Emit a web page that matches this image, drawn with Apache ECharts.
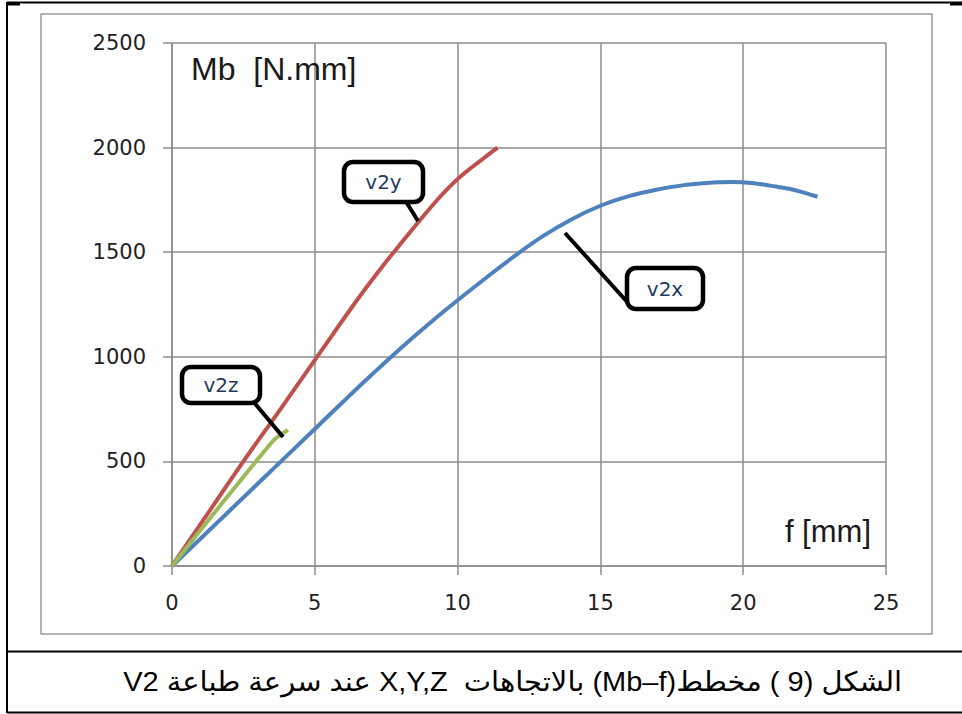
<!DOCTYPE html>
<html>
<head>
<meta charset="utf-8">
<script src="https://cdn.jsdelivr.net/npm/echarts@6/dist/echarts.min.js"></script>
<style>
  html, body { margin: 0; padding: 0; background: #fff; }
  #wrap { position: relative; width: 962px; height: 714px; overflow: hidden; }
  #chart { position: absolute; left: 0; top: 0; width: 962px; height: 714px; }
  #caption {
    position: absolute; top: 653px; height: 58px; right: 60px;
    direction: rtl; text-align: right;
    font-family: "Liberation Sans", "DejaVu Sans", sans-serif;
    font-size: 27px; line-height: 58px; color: #000; white-space: nowrap;
    transform-origin: right center;
  }
</style>
</head>
<body>
<div id="wrap">
  <div id="chart"></div>
  <div id="caption" dir="rtl">الشكل (9 ) مخطط(Mb–f) بالاتجاهات&nbsp; X,Y,Z عند سرعة طباعة V2</div>
</div>
<script>
// ---- data ----
const xTicks = [0, 5, 10, 15, 20, 25];
const yTicks = [0, 500, 1000, 1500, 2000, 2500];

const v2yF  = [0, 1.25, 2.5, 3.8, 5.08, 6.5, 7.3, 7.9, 8.6, 9.3, 9.7, 10.1, 10.5, 10.9, 11.4];
const v2yMb = [0, 250, 500, 750, 1000, 1275, 1420, 1523, 1640, 1752, 1810, 1862, 1906, 1948, 2000];

const v2zF  = [0, 1, 2, 2.94, 3.35, 3.6, 3.85, 4.06];
const v2zMb = [0, 172, 342, 500, 568, 606, 632, 650];

const v2xF  = [0, 2, 4, 6, 7, 8, 9, 10, 11, 12, 13, 14, 15, 16, 17, 18, 18.6, 19.1, 19.6, 20.3, 21, 21.6, 22.1, 22.6];
const v2xMb = [0, 262, 524, 786, 915, 1040, 1158, 1270, 1378, 1482, 1578, 1658, 1722, 1768, 1800, 1822, 1830, 1834, 1836, 1831, 1817, 1803, 1786, 1765];

const seriesNames = ['v2x', 'v2y', 'v2z'];
const axisNameY = 'Mb  [N.mm]';
const axisNameX = 'f [mm]';

function pairs(xs, ys) { return xs.map((x, i) => [x, ys[i]]); }

const chart = echarts.init(document.getElementById('chart'), null, { renderer: 'svg' });

const tickFont = { fontFamily: 'DejaVu Sans', fontSize: 21, color: '#222' };
const gridLine = { lineStyle: { color: '#8c8c8c', width: 1.5 } };

function callout(bx, by, bw, bh, text, x1, y1, x2, y2) {
  return [
    { type: 'line', z: 100, shape: { x1: x1, y1: y1, x2: x2, y2: y2 },
      style: { stroke: '#000', lineWidth: 4 } },
    { type: 'rect', z: 101, shape: { x: bx, y: by, width: bw, height: bh, r: 9 },
      style: { fill: '#fff', stroke: '#000', lineWidth: 4.5 } },
    { type: 'text', z: 102, style: { x: bx + bw / 2, y: by + bh / 2, text: text,
      align: 'center', verticalAlign: 'middle', fontFamily: 'DejaVu Sans', fontSize: 20, fill: '#1f3a5f' } }
  ];
}

const option = {
  backgroundColor: '#fff',
  animation: false,
  grid: { left: 172, top: 43, right: 76, bottom: 148, containLabel: false, outerBoundsMode: 'none' },
  xAxis: {
    type: 'value', min: 0, max: 25, interval: 5,
    axisLine: { show: true, lineStyle: { color: '#8c8c8c', width: 1.5 } },
    axisTick: { show: true, length: 9, lineStyle: { color: '#8c8c8c', width: 1.5 } },
    splitLine: Object.assign({ show: true }, gridLine),
    axisLabel: Object.assign({ margin: 26, formatter: v => (xTicks.includes(v) ? String(v) : '') }, tickFont)
  },
  yAxis: {
    type: 'value', min: 0, max: 2500, interval: 500,
    axisLine: { show: true, lineStyle: { color: '#8c8c8c', width: 1.5 } },
    axisTick: { show: true, length: 9, lineStyle: { color: '#8c8c8c', width: 1.5 } },
    splitLine: Object.assign({ show: true }, gridLine),
    axisLabel: Object.assign({ margin: 26, formatter: v => (yTicks.includes(v) ? String(v) : '') }, tickFont)
  },
  series: [
    { name: seriesNames[0], type: 'line', data: pairs(v2xF, v2xMb), showSymbol: false, smooth: 0.4,
      lineStyle: { color: '#4f81bd', width: 4 }, itemStyle: { color: '#4f81bd' }, z: 3 },
    { name: seriesNames[1], type: 'line', data: pairs(v2yF, v2yMb), showSymbol: false, smooth: 0.4,
      lineStyle: { color: '#c0504d', width: 4 }, itemStyle: { color: '#c0504d' }, z: 4 },
    { name: seriesNames[2], type: 'line', data: pairs(v2zF, v2zMb), showSymbol: false, smooth: 0.4,
      lineStyle: { color: '#9bbb59', width: 4 }, itemStyle: { color: '#9bbb59' }, z: 5 }
  ],
  graphic: [
    // outer table frame
    { type: 'line', shape: { x1: 7, y1: 2.5, x2: 962, y2: 2.5 }, style: { stroke: '#000', lineWidth: 2 } },
    { type: 'line', shape: { x1: 7, y1: 4, x2: 20, y2: 4 }, style: { stroke: '#000', lineWidth: 3 } },
    { type: 'line', shape: { x1: 950, y1: 4, x2: 962, y2: 4 }, style: { stroke: '#000', lineWidth: 3 } },
    { type: 'line', shape: { x1: 7, y1: 2, x2: 7, y2: 713 }, style: { stroke: '#000', lineWidth: 2 } },
    { type: 'line', shape: { x1: 7, y1: 651.5, x2: 962, y2: 651.5 }, style: { stroke: '#000', lineWidth: 2 } },
    { type: 'line', shape: { x1: 7, y1: 712.5, x2: 962, y2: 712.5 }, style: { stroke: '#000', lineWidth: 2 } },
    // chart area border
    { type: 'rect', shape: { x: 41, y: 14, width: 891, height: 620 },
      style: { fill: 'none', stroke: '#9a9a9a', lineWidth: 1.5 } },
    // axis titles
    { type: 'text', z: 50, style: { x: 191, y: 68.5, text: axisNameY, align: 'left', verticalAlign: 'middle',
      fontFamily: 'Liberation Sans', fontSize: 32, fill: '#1a1a1a' } },
    { type: 'text', z: 50, style: { x: 871, y: 531, text: axisNameX, align: 'right', verticalAlign: 'middle',
      fontFamily: 'Liberation Sans', fontSize: 31, fill: '#1a1a1a' } }
  ]
    .concat(callout(344, 162, 79, 40, 'v2y', 405, 200, 418, 221))
    .concat(callout(627, 268, 76, 41, 'v2x', 565, 233, 629, 304))
    .concat(callout(182, 367, 78, 36, 'v2z', 252, 400, 283, 437))
};

chart.setOption(option);

// fit caption to the reference's span (about 123px .. 902px)
(function () {
  const cap = document.getElementById('caption');
  const w = cap.getBoundingClientRect().width;
  const target = 779;
  if (w > 0) cap.style.transform = 'scaleX(' + (target / w).toFixed(4) + ')';
})();
</script>
</body>
</html>
